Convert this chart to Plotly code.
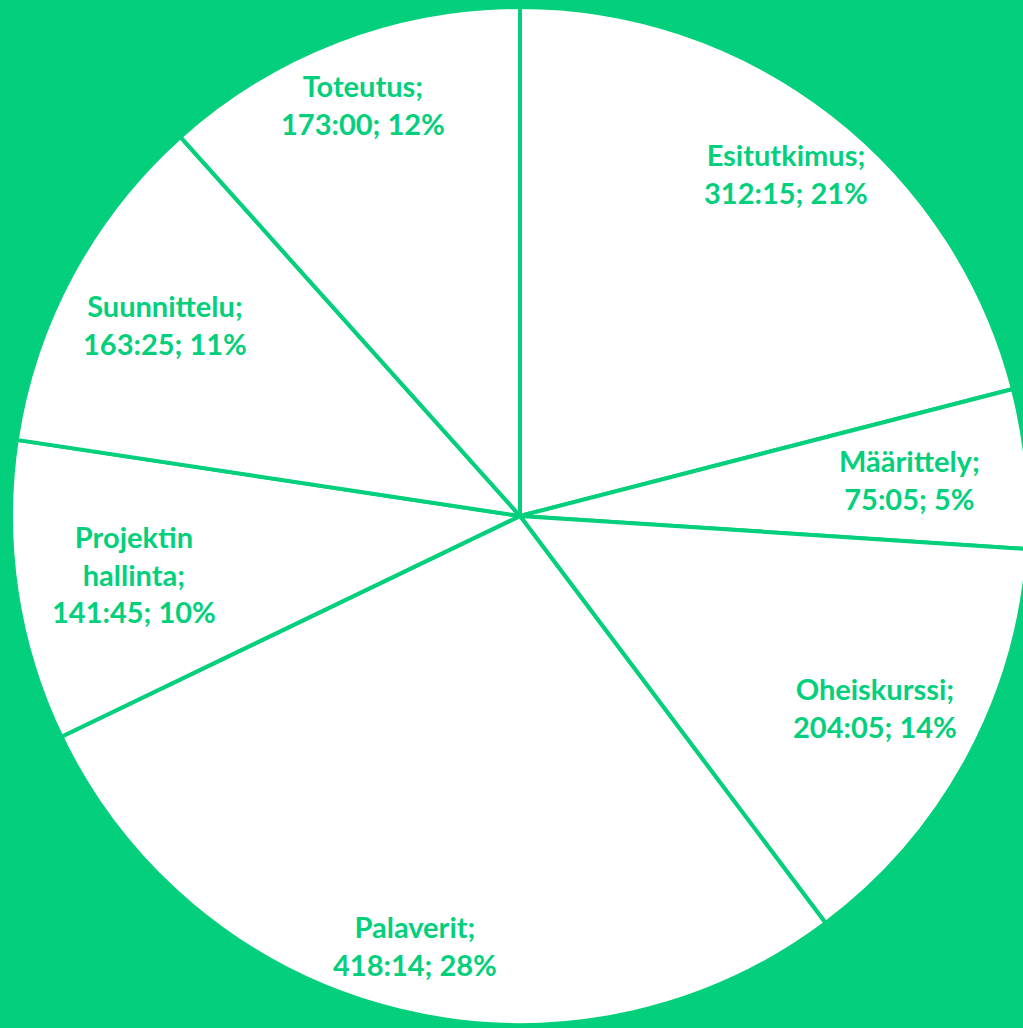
import math
import plotly.graph_objects as go

categories = ["Esitutkimus", "Määrittely", "Oheiskurssi", "Palaverit",
              "Projektin hallinta", "Suunnittelu", "Toteutus"]
durations = ["312:15", "75:05", "204:05", "418:14", "141:45", "163:25", "173:00"]

GREEN = "#03CF7C"
W, H = 1040, 1028          # canvas slightly wider than the window; right edge is cropped
DOM_X = [11 / W, 1029 / W]
DOM_Y = [3 / H, 1021 / H]
FONT_SIZE = 29

minutes = [int(d.split(":")[0]) * 60 + int(d.split(":")[1]) for d in durations]
total = sum(minutes)

fig = go.Figure(go.Pie(
    labels=categories,
    values=minutes,
    sort=False,
    direction="clockwise",
    rotation=0,
    textinfo="none",
    hoverinfo="label+percent",
    marker=dict(colors=["white"] * len(categories), line=dict(color=GREEN, width=4)),
    domain=dict(x=DOM_X, y=DOM_Y),
    showlegend=False,
))

# geometry of pie in pixels (derived from domain)
dw = (DOM_X[1] - DOM_X[0]) * W
dh = (DOM_Y[1] - DOM_Y[0]) * H
R = min(dw, dh) / 2
cx = DOM_X[0] * W + dw / 2
cy = (1 - DOM_Y[1]) * H + dh / 2
EDGE_FRAC = 0.942   # labels sit "inside end": box edge on the radial ray at this radius

cum = 0
for cat, dur, m in zip(categories, durations, minutes):
    mid = (cum + m / 2) / total * 2 * math.pi
    cum += m
    pct = round(m / total * 100)
    lines = cat.split(" ")
    lines[-1] += ";"
    lines.append(f"{dur}; {pct}%")
    text = "<br>".join(lines)
    # approximate label box
    hw = max(len(s) for s in lines) * 0.55 * FONT_SIZE / 2
    hh = len(lines) * 1.25 * FONT_SIZE / 2
    ux, uy = math.sin(mid), math.cos(mid)
    exit_d = min(hw / max(abs(ux), 1e-9), hh / max(abs(uy), 1e-9))
    r = EDGE_FRAC * R - exit_d
    px = cx + r * ux
    py = cy - r * uy
    fig.add_annotation(
        x=px / W, y=1 - py / H, xref="paper", yref="paper",
        text=text, showarrow=False, align="center",
        xanchor="center", yanchor="middle",
        font=dict(family="Lato", size=FONT_SIZE, color=GREEN, weight="bold"),
    )

fig.update_layout(
    width=W, height=H,
    margin=dict(l=0, r=0, t=0, b=0),
    paper_bgcolor=GREEN,
    plot_bgcolor=GREEN,
)

fig.write_html(
    "out.html",
    config={"displayModeBar": False},
    post_script=(
        "document.body.style.margin='0';"
        "document.body.style.overflow='hidden';"
        f"document.body.style.background='{GREEN}';"
    ),
)
